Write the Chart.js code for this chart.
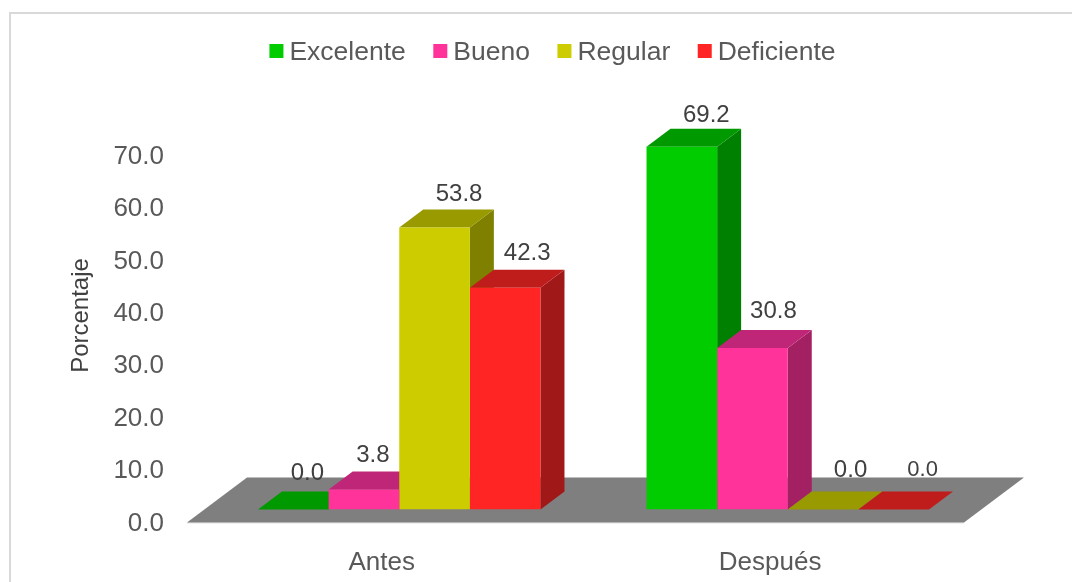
<!DOCTYPE html>
<html>
<head>
<meta charset="utf-8">
<title>Porcentaje antes y después</title>
<script src="https://cdn.jsdelivr.net/npm/chart.js@4/dist/chart.umd.min.js"></script>
<style>
    html, body { margin: 0; padding: 0; background: #fff; overflow: hidden; }
    canvas { display: block; }
</style>
</head>
<body>
<canvas id="barChart" width="1072" height="582"></canvas>
<script>
const categories = ['Antes', 'Después'];
const seriesNames = ['Excelente', 'Bueno', 'Regular', 'Deficiente'];
const excelente = [0.0, 69.2];
const bueno = [3.8, 30.8];
const regular = [53.8, 0.0];
const deficiente = [42.3, 0.0];
const seriesValues = [excelente, bueno, regular, deficiente];

const frontColors = ['#00CC00', '#FF3399', '#CCCC00', '#FF2525'];
const topColors = ['#009900', '#BF2677', '#999900', '#BF1C1C'];
const sideColors = ['#008000', '#A32163', '#808000', '#A01818'];

// Excel moved the value labels by hand, so each one has its own nudge [dx, dy]
const labelNudges = [
    [[14, 18], [24.5, 13.5]],
    [[9, 16], [21, 18.5]],
    [[24.5, 15.5], [27.5, 21.5]],
    [[22, 16.2], [29, 21.5]]
];

const fontFamily = '"Liberation Sans", Arial, sans-serif';
const depthX = 24;
const depthY = 18;

function fillShape(ctx, color, points) {
    ctx.fillStyle = color;
    ctx.beginPath();
    points.forEach((p, i) => i ? ctx.lineTo(p[0], p[1]) : ctx.moveTo(p[0], p[1]));
    ctx.closePath();
    ctx.fill();
}

// Frame, floor and the 3D faces go under the bars the library draws
const depthPlugin = {
    id: 'depth',
    beforeDraw(chart) {
        const ctx = chart.ctx;
        ctx.fillStyle = '#D9D9D9';
        ctx.fillRect(9, 12, 1063, 2);
        ctx.fillRect(9, 12, 2, 570);
    },
    beforeDatasetsDraw(chart) {
        const ctx = chart.ctx;
        const area = chart.chartArea;
        const front = area.bottom + 13;
        const back = area.bottom - 32;
        ctx.fillStyle = '#E2E2E2';
        ctx.fillRect(187, front, 777, 1);
        fillShape(ctx, '#7F7F7F', [
            [area.left - 18, front], [area.right - 18, front],
            [area.right + 42, back], [area.left + 42, back]
        ]);
        categories.forEach((c, i) => {
            seriesNames.forEach((s, d) => {
                const bar = chart.getDatasetMeta(d).data[i];
                const left = bar.x - bar.width / 2;
                const right = bar.x + bar.width / 2;
                if (bar.base - bar.y > 0) {
                    fillShape(ctx, sideColors[d], [
                        [right, bar.y], [right + depthX, bar.y - depthY],
                        [right + depthX, bar.base - depthY], [right, bar.base]
                    ]);
                }
                fillShape(ctx, topColors[d], [
                    [left, bar.y], [right, bar.y],
                    [right + depthX, bar.y - depthY], [left + depthX, bar.y - depthY]
                ]);
            });
        });
    },
    afterDatasetsDraw(chart) {
        const ctx = chart.ctx;
        ctx.textAlign = 'center';
        ctx.textBaseline = 'middle';
        ctx.fillStyle = '#404040';
        seriesValues.forEach((values, d) => {
            values.forEach((v, i) => {
                const bar = chart.getDatasetMeta(d).data[i];
                const size = (d === 3 && i === 1) ? 22 : 24;
                ctx.font = size + 'px ' + fontFamily;
                ctx.fillText(v.toFixed(1), bar.x + labelNudges[d][i][0], bar.y - depthY - labelNudges[d][i][1]);
            });
        });
        drawLegend(chart);
    }
};

// The built-in legend leaves too wide a gap between box and text
function drawLegend(chart) {
    const ctx = chart.ctx;
    const gap = 27.5;
    ctx.font = '26.5px ' + fontFamily;
    ctx.textAlign = 'left';
    ctx.textBaseline = 'middle';
    const widths = seriesNames.map(name => ctx.measureText(name).width + 20);
    const total = widths.reduce((a, b) => a + b, 0) + gap * (seriesNames.length - 1);
    let x = 552.5 - total / 2;
    seriesNames.forEach((name, d) => {
        ctx.fillStyle = frontColors[d];
        ctx.fillRect(x, 44, 14, 14);
        ctx.fillStyle = '#595959';
        ctx.fillText(name, x + 20, 52.5);
        x += widths[d] + gap;
    });
}

const barChartCtx = document.getElementById('barChart').getContext('2d');
const barChart = new Chart(barChartCtx, {
    type: 'bar',
    data: {
        labels: categories,
        datasets: seriesNames.map((name, d) => ({
            label: name,
            data: seriesValues[d],
            backgroundColor: frontColors[d],
            borderWidth: 0,
            categoryPercentage: 0.727,
            barPercentage: 1
        }))
    },
    options: {
        responsive: false,
        animation: false,
        layout: { padding: { top: 121.5, right: 90, bottom: 0, left: 0 } },
        plugins: {
            legend: { display: false },
            tooltip: { enabled: false }
        },
        scales: {
            x: {
                grid: { display: false },
                border: { display: false },
                afterFit: scale => { scale.height = 72.5; },
                ticks: {
                    padding: 30,
                    labelOffset: -17.6,
                    color: '#595959',
                    font: { family: fontFamily, size: 26 }
                }
            },
            y: {
                min: 0,
                max: 74,
                grid: { display: false },
                border: { display: false },
                afterFit: scale => { scale.width = 205; },
                title: {
                    display: true,
                    text: 'Porcentaje',
                    color: '#404040',
                    padding: { top: 67, bottom: 0 },
                    font: { family: fontFamily, size: 24 }
                },
                ticks: {
                    stepSize: 10,
                    includeBounds: false,
                    padding: 33,
                    labelOffset: 14,
                    color: '#595959',
                    font: { family: fontFamily, size: 26 },
                    callback: value => value.toFixed(1)
                }
            }
        }
    },
    plugins: [depthPlugin]
});
</script>
</body>
</html>
